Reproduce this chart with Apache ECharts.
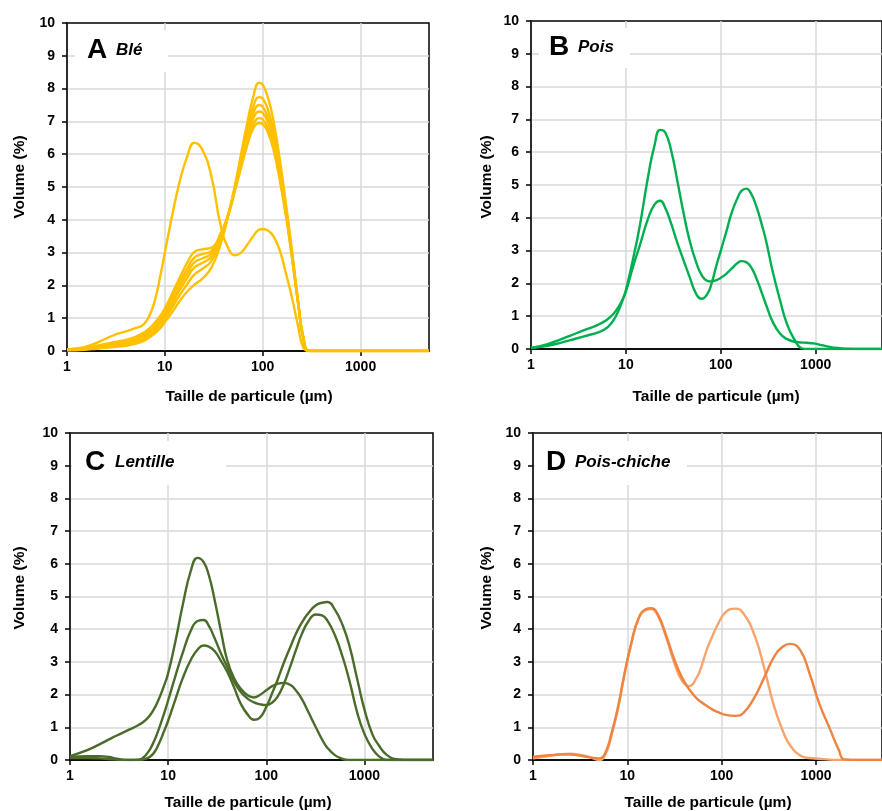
<!DOCTYPE html>
<html><head><meta charset="utf-8">
<script src="https://cdn.jsdelivr.net/npm/echarts@6/dist/echarts.min.js"></script>
<style>html,body{margin:0;padding:0;background:#fff}#c{width:882px;height:811px}</style>
</head><body><div id="c"></div>
<script>
// ---------- DATA ----------
const X_TICKS = [1, 10, 100, 1000];
const Y_MAX = 10;

// Panel A : Blé
const SIZES_A = [1, 1.5, 2, 3, 4, 5, 6, 7, 8, 9, 10, 12, 14, 17, 20, 24, 30, 37, 45, 52, 60, 70, 80, 92, 100, 115, 130, 150, 175, 200, 230, 260, 300, 400, 1000, 5000];
const BLE_1 = [0.05, 0.12, 0.25, 0.48, 0.6, 0.7, 0.8, 1.1, 1.6, 2.3, 3.0, 4.2, 5.1, 5.95, 6.35, 6.15, 5.3, 3.85, 3.1, 2.92, 3.0, 3.25, 3.5, 3.7, 3.72, 3.66, 3.48, 3.05, 2.3, 1.6, 0.75, 0.1, 0, 0, 0, 0];
const BLE_2 = [0.02, 0.04, 0.07, 0.12, 0.16, 0.22, 0.3, 0.42, 0.55, 0.7, 0.88, 1.2, 1.5, 1.82, 2.02, 2.2, 2.55, 3.25, 4.2, 5.05, 6.0, 7.0, 7.75, 8.18, 8.12, 7.65, 6.95, 5.8, 4.35, 3.0, 1.5, 0.35, 0, 0, 0, 0];
const BLE_3 = [0.03, 0.05, 0.09, 0.15, 0.2, 0.27, 0.36, 0.48, 0.62, 0.78, 0.97, 1.35, 1.68, 2.05, 2.33, 2.5, 2.75, 3.35, 4.22, 5.0, 5.9, 6.8, 7.45, 7.74, 7.7, 7.28, 6.65, 5.6, 4.25, 2.95, 1.5, 0.38, 0, 0, 0, 0];
const BLE_4 = [0.03, 0.06, 0.1, 0.18, 0.24, 0.31, 0.41, 0.54, 0.7, 0.87, 1.06, 1.47, 1.83, 2.24, 2.55, 2.68, 2.88, 3.42, 4.22, 4.98, 5.8, 6.65, 7.25, 7.5, 7.45, 7.06, 6.45, 5.45, 4.15, 2.9, 1.48, 0.4, 0, 0, 0, 0];
const BLE_5 = [0.04, 0.07, 0.12, 0.2, 0.27, 0.35, 0.46, 0.6, 0.77, 0.95, 1.15, 1.58, 1.95, 2.38, 2.7, 2.82, 2.98, 3.48, 4.22, 4.95, 5.72, 6.52, 7.08, 7.3, 7.26, 6.9, 6.32, 5.35, 4.1, 2.85, 1.46, 0.4, 0, 0, 0, 0];
const BLE_6 = [0.05, 0.08, 0.14, 0.23, 0.3, 0.39, 0.5, 0.65, 0.83, 1.02, 1.23, 1.68, 2.08, 2.52, 2.85, 2.95, 3.05, 3.52, 4.22, 4.92, 5.65, 6.4, 6.9, 7.1, 7.06, 6.72, 6.18, 5.25, 4.05, 2.82, 1.45, 0.42, 0, 0, 0, 0];
const BLE_7 = [0.05, 0.09, 0.16, 0.27, 0.34, 0.43, 0.55, 0.7, 0.88, 1.08, 1.3, 1.78, 2.2, 2.7, 3.02, 3.1, 3.15, 3.58, 4.2, 4.88, 5.58, 6.3, 6.78, 6.95, 6.92, 6.6, 6.08, 5.18, 4.0, 2.8, 1.45, 0.42, 0, 0, 0, 0];

// Panel B : Pois
const SIZES_B = [1, 1.5, 2, 3, 4, 5, 6, 7, 8, 9, 10, 12, 14, 17, 20, 23, 26, 30, 35, 40, 47, 55, 63, 72, 80, 90, 100, 115, 130, 150, 165, 185, 210, 240, 270, 300, 350, 420, 500, 600, 700, 800, 950, 1200, 1500, 2000, 3000, 5000];
const POIS_1 = [0.03, 0.1, 0.18, 0.32, 0.42, 0.5, 0.6, 0.78, 1.05, 1.4, 1.8, 2.8, 3.75, 5.2, 6.2, 6.68, 6.6, 6.05, 5.1, 4.23, 3.3, 2.65, 2.25, 2.08, 2.06, 2.1, 2.17, 2.3, 2.45, 2.62, 2.68, 2.65, 2.48, 2.12, 1.72, 1.35, 0.85, 0.47, 0.3, 0.22, 0.2, 0.19, 0.17, 0.11, 0.05, 0.01, 0, 0];
const POIS_2 = [0.03, 0.15, 0.28, 0.48, 0.62, 0.73, 0.85, 1.0, 1.2, 1.45, 1.75, 2.55, 3.15, 3.95, 4.4, 4.52, 4.3, 3.82, 3.22, 2.75, 2.19, 1.68, 1.53, 1.67, 2.0, 2.55, 3.0, 3.6, 4.15, 4.6, 4.82, 4.89, 4.72, 4.3, 3.8, 3.3, 2.4, 1.5, 0.75, 0.28, 0.03, 0, 0, 0, 0, 0, 0, 0];

// Panel C : Lentille
const SIZES_C = [1, 1.5, 2, 2.5, 3, 4, 5, 6, 7, 8, 9, 10, 12, 14, 17, 20, 23, 26, 30, 35, 40, 47, 55, 65, 75, 85, 100, 115, 130, 150, 175, 200, 230, 270, 320, 370, 420, 500, 600, 700, 850, 1000, 1200, 1400, 1700, 2200, 3000, 5000];
const LENT_1 = [0.12, 0.3, 0.48, 0.63, 0.75, 0.93, 1.07, 1.24, 1.5, 1.85, 2.24, 2.65, 3.7, 4.7, 5.78, 6.18, 6.05, 5.65, 4.85, 3.85, 3.05, 2.5, 2.18, 1.97, 1.91, 1.98, 2.13, 2.26, 2.33, 2.36, 2.3, 2.13, 1.87, 1.45, 1.0, 0.63, 0.37, 0.15, 0.03, 0, 0, 0, 0, 0, 0, 0, 0, 0];
const LENT_2 = [0.1, 0.12, 0.12, 0.09, 0.04, 0, 0.01, 0.17, 0.5, 0.93, 1.38, 1.82, 2.62, 3.25, 3.95, 4.25, 4.28, 4.1, 3.7, 3.22, 2.85, 2.4, 2.08, 1.87, 1.76, 1.71, 1.68, 1.76, 1.93, 2.3, 2.85, 3.35, 3.85, 4.25, 4.45, 4.42, 4.26, 3.82, 3.15, 2.45, 1.42, 0.8, 0.35, 0.12, 0, 0, 0, 0];
const LENT_3 = [0.06, 0.06, 0.05, 0.03, 0.01, 0, 0, 0.04, 0.18, 0.48, 0.85, 1.2, 1.9, 2.48, 3.06, 3.38, 3.5, 3.47, 3.32, 3.0, 2.7, 2.22, 1.72, 1.38, 1.23, 1.28, 1.62, 2.05, 2.44, 2.95, 3.44, 3.85, 4.2, 4.5, 4.73, 4.81, 4.83, 4.6, 4.12, 3.52, 2.44, 1.55, 0.8, 0.45, 0.15, 0.02, 0, 0];

// Panel D : Pois-chiche
const SIZES_D = [1, 1.3, 1.6, 2, 2.5, 3, 4, 5, 5.8, 6.8, 8, 9.3, 11, 13, 15.5, 18, 21, 26, 31.6, 38, 45, 55, 60, 70, 80, 90, 110, 140, 170, 225, 285, 360, 450, 530, 680, 850, 1080, 1370, 1740, 2000, 3000, 5000];
const PCH_1 = [0.05, 0.1, 0.14, 0.18, 0.19, 0.17, 0.09, 0.0, 0.15, 0.75, 1.6, 2.6, 3.55, 4.28, 4.58, 4.62, 4.42, 3.72, 2.95, 2.42, 2.26, 2.55, 2.8, 3.4, 3.8, 4.12, 4.52, 4.63, 4.48, 3.78, 2.76, 1.63, 0.85, 0.45, 0.14, 0.06, 0.04, 0.01, 0, 0, 0, 0];
const PCH_2 = [0.1, 0.13, 0.15, 0.17, 0.17, 0.14, 0.08, 0.05, 0.2, 0.82, 1.65, 2.62, 3.57, 4.3, 4.6, 4.64, 4.46, 3.78, 3.06, 2.52, 2.17, 1.87, 1.78, 1.65, 1.54, 1.47, 1.38, 1.35, 1.44, 1.94, 2.55, 3.16, 3.48, 3.55, 3.36, 2.66, 1.73, 1.02, 0.31, 0.02, 0, 0];

// ---------- LAYOUT / STYLE ----------
const FONT = '"Liberation Sans", Arial, Helvetica, sans-serif';
const X_TITLE = 'Taille de particule (µm)';
const Y_TITLE = 'Volume (%)';

const panels = [
  { grid: {left: 67, top: 23, width: 362, height: 328}, sizes: SIZES_A,
    series: [BLE_1, BLE_2, BLE_3, BLE_4, BLE_5, BLE_6, BLE_7],
    colors: ['#FFC000','#FFC000','#FFC000','#FFC000','#FFC000','#FFC000','#FFC000'],
    letter: 'A', name: 'Blé', box: [75, 30, 93, 42], letterX: 87, nameX: 116, textY: 50,
    yTitle: [20, 177], xTitle: [249, 397] },
  { grid: {left: 531, top: 21, width: 362, height: 328}, sizes: SIZES_B,
    series: [POIS_1, POIS_2], colors: ['#00B050', '#00B050'],
    letter: 'B', name: 'Pois', box: [539, 28, 91, 40], letterX: 549, nameX: 578, textY: 47,
    yTitle: [487, 177], xTitle: [716, 397] },
  { grid: {left: 70, top: 433, width: 363, height: 327}, sizes: SIZES_C,
    series: [LENT_1, LENT_2, LENT_3], colors: ['#4B6B2B', '#4B6B2B', '#4B6B2B'],
    letter: 'C', name: 'Lentille', box: [72, 441, 154, 44], letterX: 85, nameX: 115, textY: 462,
    yTitle: [20, 588], xTitle: [248, 803] },
  { grid: {left: 533, top: 433, width: 363, height: 327}, sizes: SIZES_D,
    series: [PCH_1, PCH_2], colors: ['#F7A36C', '#EF8440'],
    letter: 'D', name: 'Pois-chiche', box: [535, 441, 152, 44], letterX: 546, nameX: 575, textY: 462,
    yTitle: [487, 588], xTitle: [708, 803] }
];

const grids = [], xAxes = [], yAxes = [], seriesList = [], graphics = [];
panels.forEach((p, i) => {
  grids.push(Object.assign({show: true, borderColor: '#000', borderWidth: 1.5, backgroundColor: 'transparent', containLabel: false}, p.grid));
  xAxes.push({
    type: 'log', logBase: 10, min: 1, max: 5000, gridIndex: i,
    axisLine: {show: true, onZero: false, lineStyle: {color: '#000', width: 1.5}},
    axisTick: {show: true, inside: false, length: 5, customValues: X_TICKS, lineStyle: {color: '#000', width: 1.5}},
    axisLabel: {show: true, customValues: X_TICKS, margin: 9, fontFamily: FONT, fontWeight: 'bold', fontSize: 14, color: '#000',
      formatter: v => String(Math.round(v))},
    splitLine: {show: true, lineStyle: {color: '#D9D9D9', width: 1.5}},
    minorTick: {show: false}, minorSplitLine: {show: false}
  });
  yAxes.push({
    type: 'value', min: 0, max: Y_MAX, interval: 1, gridIndex: i,
    axisLine: {show: true, onZero: false, lineStyle: {color: '#000', width: 1.5}},
    axisTick: {show: true, inside: false, length: 5, lineStyle: {color: '#000', width: 1.5}},
    axisLabel: {margin: 12, fontFamily: FONT, fontWeight: 'bold', fontSize: 14, color: '#000'},
    splitLine: {show: true, showMinLine: false, showMaxLine: false, lineStyle: {color: '#D9D9D9', width: 1.5}}
  });
  p.series.forEach((vals, k) => {
    seriesList.push({
      type: 'line', xAxisIndex: i, yAxisIndex: i,
      data: p.sizes.map((s, j) => [s, vals[j]]),
      showSymbol: false, symbol: 'none', smooth: 0.5, clip: true, silent: true, z: 3,
      lineStyle: {width: 2.4, color: p.colors[k]}
    });
  });
  graphics.push({type: 'rect', z: 1, shape: {x: p.box[0], y: p.box[1], width: p.box[2], height: p.box[3]}, style: {fill: '#fff'}});
  graphics.push({type: 'text', z: 4, x: p.letterX, y: p.textY, style: {text: p.letter, fill: '#000', font: 'bold 28px ' + FONT, textAlign: 'left', textVerticalAlign: 'middle'}});
  graphics.push({type: 'text', z: 4, x: p.nameX, y: p.textY, style: {text: p.name, fill: '#000', font: 'italic bold 17px ' + FONT, textAlign: 'left', textVerticalAlign: 'middle'}});
  graphics.push({type: 'text', z: 4, x: p.yTitle[0], y: p.yTitle[1], rotation: Math.PI / 2, style: {text: Y_TITLE, fill: '#000', font: 'bold 15.5px ' + FONT, textAlign: 'center', textVerticalAlign: 'middle'}});
  graphics.push({type: 'text', z: 4, x: p.xTitle[0], y: p.xTitle[1], style: {text: X_TITLE, fill: '#000', font: 'bold 15.5px ' + FONT, textAlign: 'center', textVerticalAlign: 'middle'}});
});

const chart = echarts.init(document.getElementById('c'), null, {renderer: 'canvas'});
chart.setOption({
  animation: false,
  backgroundColor: '#fff',
  grid: grids, xAxis: xAxes, yAxis: yAxes, series: seriesList,
  graphic: {elements: graphics}
});
</script></body></html>
